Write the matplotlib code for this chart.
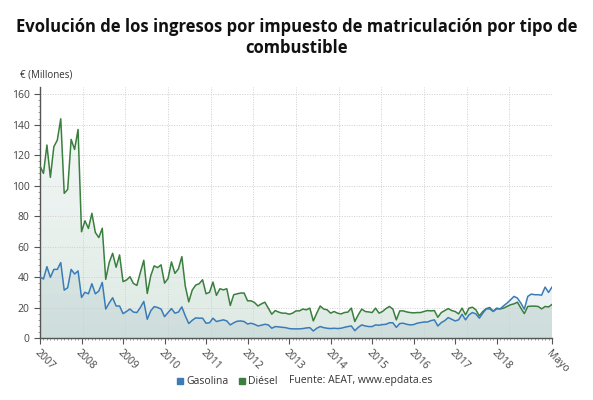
import numpy as np
import matplotlib
matplotlib.use("Agg")
import matplotlib.pyplot as plt
from matplotlib.lines import Line2D

plt.rcParams['font.family'] = ['Open Sans', 'DejaVu Sans']

# monthly values, Jan 2007 .. May 2019 (millones de euros)
gasolina = [
    40.2, 38.7, 46.8, 39.8, 45, 45, 49.5, 31.4, 33, 45, 42, 44,
    26.6, 30, 29, 35.6, 29, 30.8, 36.5, 19, 23, 26.4, 21, 21,
    16, 17.4, 19, 17, 16.7, 20, 24, 12.3, 17.8, 20.6, 20, 19,
    14, 16.7, 19.3, 16.3, 17, 20.4, 14.5, 9.5, 11.6, 13.2, 13, 13,
    9.7, 10, 13, 10.8, 11.4, 11.9, 11.2, 8.6, 10, 11, 11.2, 10.8,
    9.2, 9.7, 9, 7.9, 8.4, 9, 8.6, 6.4, 7.5, 7.3, 7, 6.8,
    6.2, 6, 6, 6, 6.2, 6.6, 6.8, 4.6, 6.4, 7.5, 6.8, 6.4,
    6.2, 6.4, 6.2, 6.4, 7, 7.5, 7.9, 4.8, 7, 8.6, 7.9, 7.5,
    7.5, 8.6, 8.4, 8.8, 9, 10, 10, 7, 9.5, 9.7, 9, 8.6,
    8.8, 9.7, 10.1, 10.5, 10.5, 11.4, 11.9, 7.9, 10.1, 11.4, 13.4, 12.3,
    11.2, 11.9, 15.6, 11.9, 15.2, 16.7, 15.8, 13, 16.3, 19.1, 19.1, 17.4,
    19.1, 19.1, 21.1, 22.9, 25, 27.3, 26.2, 22.9, 18.9, 27.3, 28.8, 28.4,
    28.4, 28.1, 33.4, 29.9, 33.4,
]
diesel = [
    112.8, 108, 126.6, 105.4, 125.5, 129.8, 143.8, 94.9, 97.5, 130.3, 123.7, 136.8,
    69.7, 76.9, 71.9, 81.8, 69.2, 65.9, 72, 38.5, 49.5, 55.6, 46.4, 54.5,
    37, 38, 40.2, 35.8, 34.5, 42.9, 51, 29.2, 40.7, 47.3, 46.2, 48,
    36, 39, 49.9, 42.4, 45.3, 53.4, 34, 23.7, 31.4, 34.7, 35.6, 38.2,
    29, 30, 36.7, 28, 32.3, 31.6, 32.3, 21.3, 28.4, 29, 29.5, 29.5,
    24.4, 24.4, 23.3, 21, 22.4, 23.5, 19.6, 15.6, 18, 17, 16.3, 16.3,
    15.6, 16.3, 17.8, 17.8, 19, 18.5, 19.6, 11.2, 16.3, 21, 19, 18.5,
    16.3, 17.4, 16.3, 15.8, 16.7, 17, 19.6, 10.8, 15.2, 19, 17.4, 17.1,
    16.7, 19.6, 16.3, 17.4, 19.3, 20.7, 19, 11.9, 17.8, 17.8, 17.1, 16.7,
    16.5, 16.7, 16.7, 17.4, 18, 17.8, 18, 13.6, 16.7, 18, 19.3, 18,
    17.4, 15.8, 19.6, 15.2, 19.6, 20.2, 18.5, 14.5, 17.4, 19.3, 20, 17.6,
    19.6, 19.1, 19.6, 20.7, 21.8, 22.4, 23.5, 19.6, 16, 20.7, 20.9, 20.9,
    20.7, 19.1, 20.7, 20.4, 22,
]
years = list(range(2007, 2019))
last_label = "Mayo"

BLUE = '#3b7cb8'
GREEN = '#3a7f3e'
YMAX = 165

x = np.arange(len(gasolina))

fig = plt.figure(figsize=(5.93, 4.0), dpi=100)
ax = fig.add_axes([40 / 593, 1 - 338 / 400, 512 / 593, (338 - 86.5) / 400])


def gradient_fill(xs, ys, rgb, a_top, a_bottom):
    poly = ax.fill_between(xs, 0, ys, facecolor='none', edgecolor='none')
    alpha = np.linspace(a_bottom, a_top, 256)
    img = np.zeros((256, 1, 4))
    img[:, 0, :3] = rgb
    img[:, 0, 3] = alpha
    im = ax.imshow(img, extent=[xs[0], xs[-1], 0, YMAX], origin='lower',
                   aspect='auto', zorder=1, interpolation='bilinear')
    im.set_clip_path(poly.get_paths()[0], transform=ax.transData)


gradient_fill(x, diesel, (0.42, 0.63, 0.53), 0.06, 0.22)
gradient_fill(x, gasolina, (0.33, 0.52, 0.62), 0.04, 0.12)

ax.plot(x, diesel, color=GREEN, lw=1.1, zorder=3)
ax.plot(x, gasolina, color=BLUE, lw=1.1, zorder=3)

ax.set_xlim(0, len(x) - 1)
ax.set_ylim(0, YMAX)

# grid
ax.set_yticks(range(0, 161, 20))
for v in range(20, 161, 20):
    ax.axhline(v, color='#cfcfcf', lw=0.7, ls=(0, (1, 1.5)), zorder=2)
for gx in np.linspace(0, len(x) - 1, 13)[1:]:
    ax.axvline(gx, color='#cfcfcf', lw=0.7, ls=(0, (1, 1.5)), zorder=2)

xt = [12 * i for i in range(len(years))] + [len(x) - 1]
ax.set_xticks(xt)
ax.set_xticklabels([str(y) for y in years] + [last_label], rotation=-45,
                   ha='left', va='top', rotation_mode='anchor')
ax.set_xticks(x, minor=True)
ax.set_yticks(np.arange(0, 161, 4), minor=True)

for side in ['top', 'right']:
    ax.spines[side].set_visible(False)
for side in ['left', 'bottom']:
    ax.spines[side].set_color('#555555')
    ax.spines[side].set_linewidth(1.0)

ax.tick_params(axis='both', which='major', labelsize=7.5, labelcolor='#444444',
               color='#555555', length=4, width=0.8)
ax.tick_params(axis='both', which='minor', color='#777777', length=1.5, width=0.5)
ax.tick_params(axis='x', pad=3)

fig.text(0.5, 1 - 27 / 400, "Evolución de los ingresos por impuesto de matriculación por tipo de",
         ha='center', va='center', fontsize=12, fontweight='bold', color='#111111')
fig.text(0.5, 1 - 48 / 400, "combustible",
         ha='center', va='center', fontsize=12, fontweight='bold', color='#111111')
fig.text(20 / 593, 1 - 75 / 400, "€ (Millones)", ha='left', va='center',
         fontsize=7, color='#333333')

# bottom legend
ly = 1 - 381 / 400
fig.add_artist(Line2D([180 / 593], [ly], marker='s', ls='', color=BLUE,
                      markersize=4.5, transform=fig.transFigure))
fig.text(186 / 593, ly, "Gasolina", ha='left', va='center', fontsize=7.5, color='#333333')
fig.add_artist(Line2D([242 / 593], [ly], marker='s', ls='', color=GREEN,
                      markersize=4.5, transform=fig.transFigure))
fig.text(248 / 593, ly, "Diésel", ha='left', va='center', fontsize=7.5, color='#333333')
fig.text(289 / 593, ly, "Fuente: AEAT, www.epdata.es", ha='left', va='center',
         fontsize=7.5, color='#333333')

fig.savefig("out.png", dpi=100)
